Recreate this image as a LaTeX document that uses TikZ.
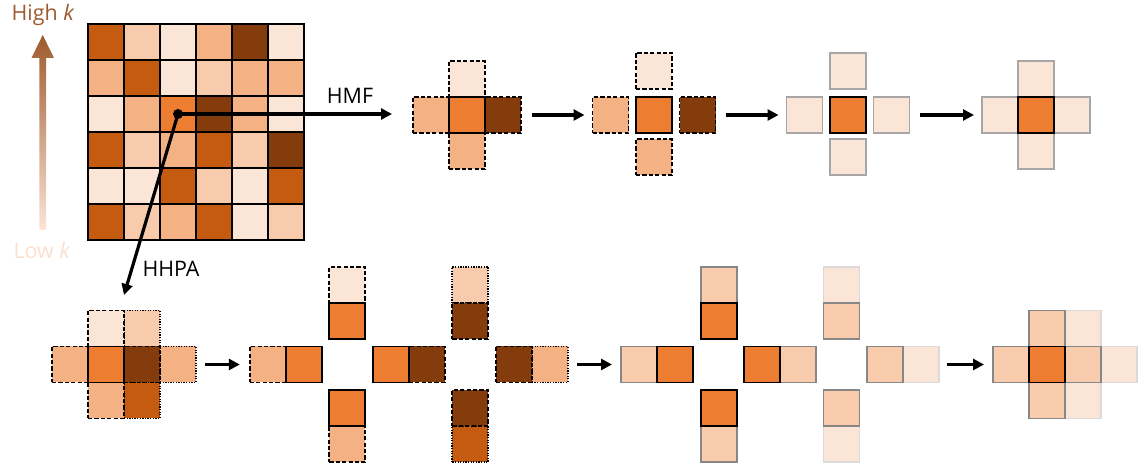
\documentclass[tikz,border=0pt]{standalone}
\usepackage{fontspec}
\setmainfont{Open Sans}
\usetikzlibrary{arrows.meta}

% orange ramp, light to dark
\definecolor{c1}{HTML}{FBE5D6}
\definecolor{c2}{HTML}{F8CBAD}
\definecolor{c3}{HTML}{F4B183}
\definecolor{c4}{HTML}{ED7D31}
\definecolor{c5}{HTML}{C55A11}
\definecolor{c6}{HTML}{843C0C}
\definecolor{hik}{HTML}{9E5A2E}
\definecolor{lok}{HTML}{FBE0CF}
\definecolor{edgeA}{HTML}{A6A6A6}
\definecolor{edgeB}{HTML}{878787}
\definecolor{edgeC}{HTML}{DADADA}

\begin{document}
\begin{tikzpicture}[x=1bp,y=-1bp,
  cell/.style={draw=black, line width=1.8bp, minimum size=36bp, inner sep=0pt, outer sep=0pt},
  dsh/.style={dash pattern=on 4.2bp off 2.2bp},
  dotb/.style={dash pattern=on 1.3bp off 1.3bp},
  fadeA/.style={draw=edgeA},
  fadeB/.style={draw=edgeB},
  fadeC/.style={draw=edgeC},
  arr/.style={line width=3.2bp, -{Triangle[length=11bp,width=11bp]}},
  lbl/.style={font=\fontsize{21.5}{25}\selectfont, inner sep=0pt}
]
\useasboundingbox (0,0) rectangle (1139,463);

% ---- legend: shaded arrow from low k to high k ----
\shade[top color=hik, middle color=c3, bottom color=c1]
  (39.3,230) -- (39.3,58) -- (31.5,58) -- (42.7,35) -- (54,58) -- (46,58) -- (46,230) -- cycle;
\node[lbl, text=hik] (hi) at (43,15) {High \textit{k}};
\node[lbl, text=lok] (lo) at (42,250) {Low \textit{k}};

% ---- 6x6 input map ----
\foreach \row [count=\i from 0] in {
  {c5,c2,c1,c3,c6,c1},
  {c3,c5,c1,c2,c3,c3},
  {c1,c3,c4,c6,c3,c1},
  {c5,c2,c3,c5,c2,c6},
  {c1,c1,c5,c2,c1,c5},
  {c5,c2,c3,c5,c1,c2}} {
  \foreach \col [count=\j from 0] in \row {
    \node[cell, fill=\col] (g-\i-\j) at ({106+36*\j},{42+36*\i}) {};
  }
}
\node[circle, fill=black, inner sep=0pt, minimum size=10bp] (hub) at (g-2-2.center) {};
\coordinate (hmf-end) at (392,114);
\coordinate (hhpa-end) at (124,295);
\draw[arr] (hub.center) -- (hmf-end);
\draw[arr] (hub.center) -- (hhpa-end);
\node[lbl] (hmf-lbl) at (350,96) {HMF};
\node[lbl] (hhpa-lbl) at (171,269) {HHPA};

% ---- HMF: step 1, cross of neighbours ----
\node[cell,dsh,fill=c1] (a-t) at (467,79) {};
\node[cell,dsh,fill=c3] (a-l) at (431,115) {};
\node[cell,dsh,fill=c6] (a-r) at (503,115) {};
\node[cell,dsh,fill=c3] (a-b) at (467,151) {};
\node[cell,fill=c4] (a-c) at (467,115) {};

% step 2, neighbours pulled apart
\node[cell,dsh,fill=c1] (b-t) at (654,70.7) {};
\node[cell,dsh,fill=c3] (b-l) at (610.5,115) {};
\node[cell,dsh,fill=c6] (b-r) at (697.5,115) {};
\node[cell,dsh,fill=c3] (b-b) at (654,157.3) {};
\node[cell,fill=c4] (b-c) at (654,115) {};

% step 3, neighbours mapped
\node[cell,fadeA,fill=c1] (c-t) at (848,70.7) {};
\node[cell,fadeA,fill=c1] (c-l) at (804.5,115) {};
\node[cell,fadeA,fill=c1] (c-r) at (891.5,115) {};
\node[cell,fadeA,fill=c1] (c-b) at (848,157.3) {};
\node[cell,fill=c4] (c-c) at (848,115) {};

% step 4, merged
\node[cell,fadeA,fill=c1] (d-t) at (1036,79) {};
\node[cell,fadeA,fill=c1] (d-l) at (1000,115) {};
\node[cell,fadeA,fill=c1] (d-r) at (1072,115) {};
\node[cell,fadeA,fill=c1] (d-b) at (1036,151) {};
\node[cell,fill=c4] (d-c) at (1036,115) {};

\draw[arr, shorten <=10.5bp, shorten >=8bp] (a-r) -- (b-l);
\draw[arr, shorten <=10.5bp, shorten >=8bp] (b-r) -- (c-l);
\draw[arr, shorten <=10.5bp, shorten >=8bp] (c-r) -- (d-l);

% ---- HHPA: step 1, two overlapping crosses ----
\node[cell,dotb,fill=c2] (e-tr) at (142,328.5) {};
\node[cell,dotb,fill=c3] (e-rr) at (178,364.5) {};
\node[cell,dotb,fill=c5] (e-br) at (142,400.5) {};
\node[cell,dsh,fill=c1] (e-t) at (106,328.5) {};
\node[cell,dsh,fill=c3] (e-l) at (70,364.5) {};
\node[cell,dsh,fill=c3] (e-b) at (106,400.5) {};
\node[cell,dsh,fill=c6] (e-r) at (142,364.5) {};
\node[cell,fill=c4] (e-c) at (106,364.5) {};

% step 2, pairs
\node[cell,dsh,fill=c3] (f-l1) at (267.8,364.5) {};
\node[cell,fill=c4] (f-l2) at (303.8,364.5) {};
\node[cell,dsh,fill=c1] (f-t1) at (347.3,285) {};
\node[cell,fill=c4] (f-t2) at (347.3,321) {};
\node[cell,dsh,fill=c3] (f-b2) at (347.3,444) {};
\node[cell,fill=c4] (f-b1) at (347.3,408) {};
\node[cell,dsh,fill=c6] (f-m2) at (426.8,364.5) {};
\node[cell,fill=c4] (f-m1) at (390.8,364.5) {};
\node[cell,dotb,fill=c2] (f-u1) at (470.3,285) {};
\node[cell,dsh,fill=c6] (f-u2) at (470.3,321) {};
\node[cell,dotb,fill=c5] (f-d2) at (470.3,444) {};
\node[cell,dsh,fill=c6] (f-d1) at (470.3,408) {};
\node[cell,dotb,fill=c3] (f-r2) at (549.8,364.5) {};
\node[cell,dsh,fill=c6] (f-r1) at (513.8,364.5) {};

% step 3, pairs mapped
\node[cell,fadeB,fill=c2] (k-l1) at (639,364.5) {};
\node[cell,fill=c4] (k-l2) at (675.2,364.5) {};
\node[cell,fadeB,fill=c2] (k-t1) at (718.7,285) {};
\node[cell,fill=c4] (k-t2) at (718.7,321) {};
\node[cell,fadeB,fill=c2] (k-b2) at (718.7,444) {};
\node[cell,fill=c4] (k-b1) at (718.7,408) {};
\node[cell,fadeB,fill=c2] (k-m2) at (798.2,364.5) {};
\node[cell,fill=c4] (k-m1) at (762.2,364.5) {};
\node[cell,fadeC,fill=c1] (k-u1) at (841.5,285) {};
\node[cell,fadeB,fill=c2] (k-u2) at (841.5,321) {};
\node[cell,fadeC,fill=c1] (k-d2) at (841.5,444) {};
\node[cell,fadeB,fill=c2] (k-d1) at (841.5,408) {};
\node[cell,fadeC,fill=c1] (k-r2) at (921,364.5) {};
\node[cell,fadeB,fill=c2] (k-r1) at (885,364.5) {};

% step 4, merged
\node[cell,fadeC,fill=c1] (m-tr) at (1083,328.5) {};
\node[cell,fadeC,fill=c1] (m-br) at (1083,400.5) {};
\node[cell,fadeC,fill=c1] (m-rr) at (1119,364.5) {};
\node[cell,fadeB,fill=c2] (m-t) at (1047,328.5) {};
\node[cell,fadeB,fill=c2] (m-b) at (1047,400.5) {};
\node[cell,fadeB,fill=c2] (m-l) at (1011,364.5) {};
\node[cell,fadeB,fill=c2] (m-r) at (1083,364.5) {};
\node[cell,fill=c4] (m-c) at (1047,364.5) {};

\draw[arr, shorten <=9bp, shorten >=10bp] (e-rr) -- (f-l1);
\draw[arr, shorten <=9bp, shorten >=9bp] (f-r2) -- (k-l1);
\draw[arr, shorten <=8bp, shorten >=9bp] (k-r2) -- (m-l);
\end{tikzpicture}
\end{document}
